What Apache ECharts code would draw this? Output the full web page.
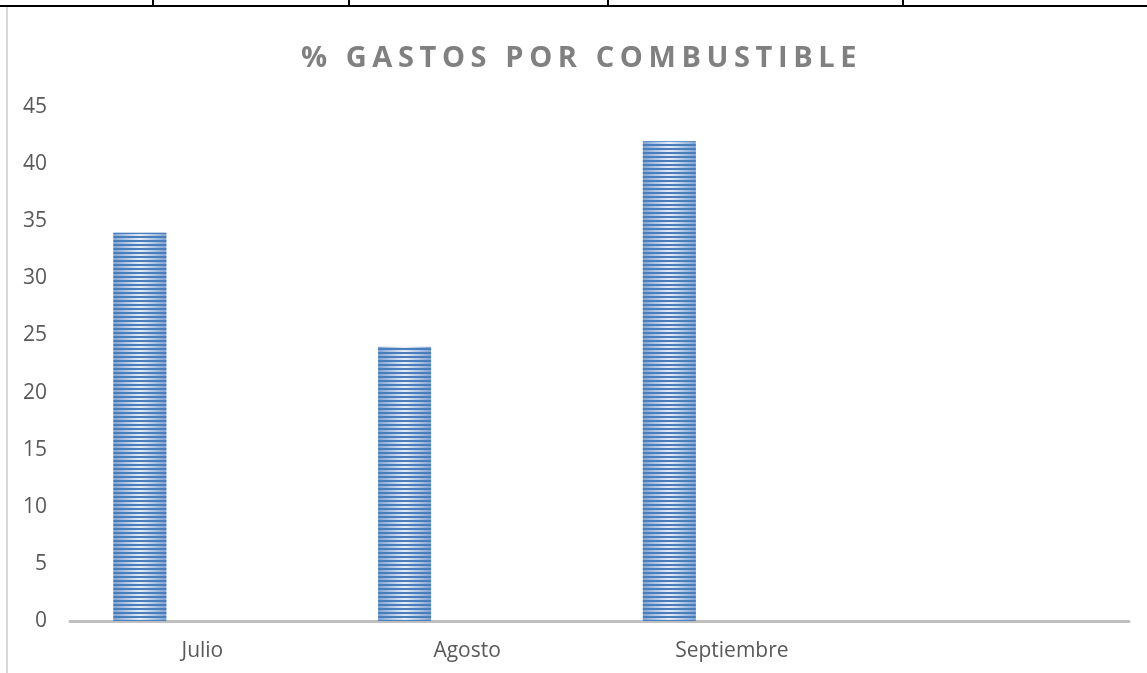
<!DOCTYPE html>
<html>
<head>
<meta charset="utf-8">
<script src="https://cdn.jsdelivr.net/npm/echarts@6/dist/echarts.min.js"></script>
<style>
    html, body { margin: 0; padding: 0; background: #fff; }
    #wrap { position: relative; width: 1147px; height: 673px; }
    #chart { width: 1147px; height: 673px; }
    #titulo {
        position: absolute; left: 0; top: 37px; width: 1147px;
        text-align: center; font-family: "Open Sans", sans-serif;
        font-weight: bold; font-size: 29px; line-height: 38px;
        letter-spacing: 5.6px; color: #808080; padding-left: 16px;
        box-sizing: border-box;
    }
</style>
</head>
<body>
<div id="wrap">
    <div id="chart"></div>
    <div id="titulo">% GASTOS POR COMBUSTIBLE</div>
</div>
<script>
    // datos
    var categorias = ['Julio', 'Agosto', 'Septiembre', ''];
    var gastos = [34, 24, 42, null];
    var serie2 = [];
    var serie3 = [];
    var yTicks = { min: 0, max: 45, interval: 5 };

    var rayado = {
        symbol: 'rect',
        symbolSize: 1,
        dashArrayX: [1, 0],
        dashArrayY: [2, 2],
        rotation: 0,
        color: '#4a7ebb'
    };
    var fondoBarra = {
        type: 'linear', x: 0, y: 0, x2: 1, y2: 0,
        colorStops: [
            { offset: 0, color: '#7fa3d3' },
            { offset: 0.5, color: '#e6edf7' },
            { offset: 1, color: '#7fa3d3' }
        ]
    };

    var myChart = echarts.init(document.getElementById('chart'));
    var option = {
        backgroundColor: '#fff',
        animation: false,
        grid: { left: 70, right: 18, top: 107, bottom: 52, containLabel: false },
        xAxis: {
            type: 'category',
            data: categorias,
            axisLine: { lineStyle: { color: '#bfbfbf', width: 3 } },
            axisTick: { show: false },
            axisLabel: { color: '#595959', fontSize: 21, fontFamily: 'Open Sans', margin: 20 }
        },
        yAxis: {
            type: 'value',
            min: yTicks.min,
            max: yTicks.max,
            interval: yTicks.interval,
            axisLine: { show: false },
            axisTick: { show: false },
            splitLine: { show: false },
            axisLabel: { color: '#595959', fontSize: 21, fontFamily: 'Open Sans', margin: 23 }
        },
        series: [
            {
                name: '% gastos', type: 'bar', data: gastos,
                barWidth: 53, barGap: '18%',
                itemStyle: { color: fondoBarra, decal: rayado }
            },
            { name: 's2', type: 'bar', data: serie2, barWidth: 53 },
            { name: 's3', type: 'bar', data: serie3, barWidth: 53 }
        ],
        graphic: [
            { type: 'line', shape: { x1: 0, y1: 6, x2: 1147, y2: 6 }, style: { stroke: '#000', lineWidth: 2 } },
            { type: 'line', shape: { x1: 153, y1: 0, x2: 153, y2: 6 }, style: { stroke: '#000', lineWidth: 2 } },
            { type: 'line', shape: { x1: 349, y1: 0, x2: 349, y2: 6 }, style: { stroke: '#000', lineWidth: 2 } },
            { type: 'line', shape: { x1: 608, y1: 0, x2: 608, y2: 6 }, style: { stroke: '#000', lineWidth: 2 } },
            { type: 'line', shape: { x1: 903, y1: 0, x2: 903, y2: 6 }, style: { stroke: '#000', lineWidth: 2 } },
            { type: 'line', shape: { x1: 7, y1: 7, x2: 7, y2: 673 }, style: { stroke: '#d9d9d9', lineWidth: 2 } }
        ]
    };
    myChart.setOption(option);
</script>
</body>
</html>
